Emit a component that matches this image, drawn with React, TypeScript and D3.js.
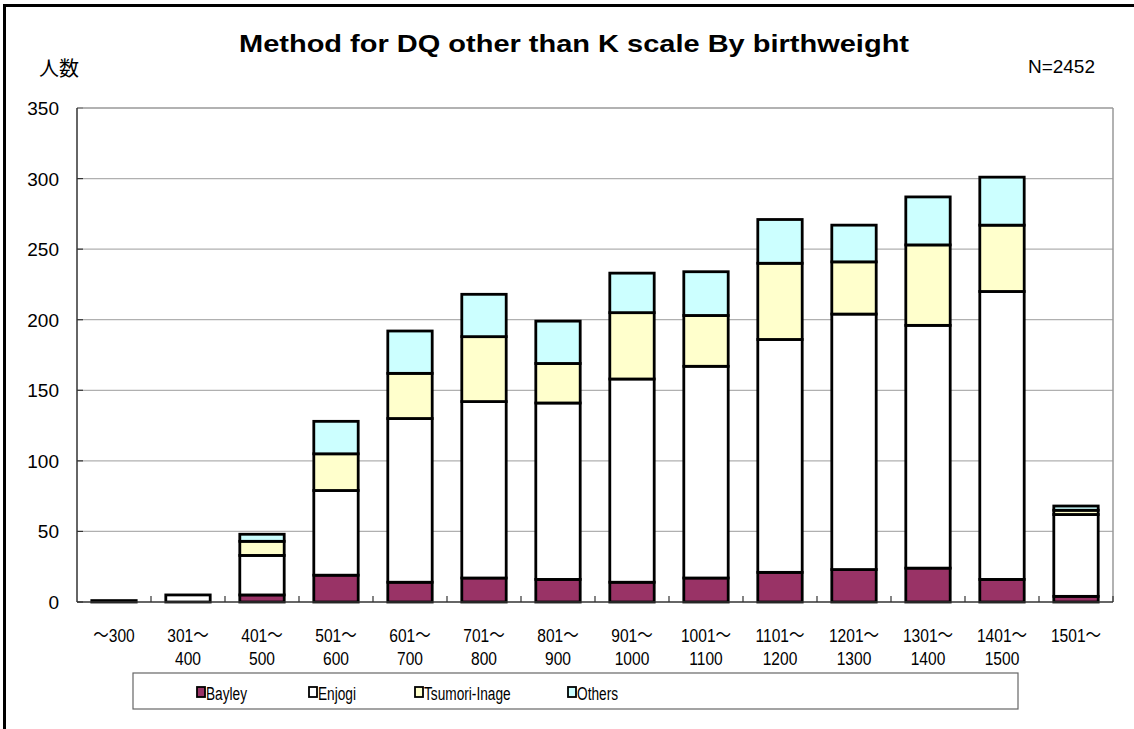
import { scaleBand, scaleLinear, stack } from 'd3';

const categories = ['～300', '301～|400', '401～|500', '501～|600', '601～|700', '701～|800', '801～|900', '901～|1000', '1001～|1100', '1101～|1200', '1201～|1300', '1301～|1400', '1401～|1500', '1501～'];
const seriesNames = ['Bayley', 'Enjogi', 'Tsumori-Inage', 'Others'];
const bayley = [0, 0, 5, 19, 14, 17, 16, 14, 17, 21, 23, 24, 16, 4];
const enjogi = [1, 5, 28, 60, 116, 125, 125, 144, 150, 165, 181, 172, 204, 58];
const tsumori = [0, 0, 10, 26, 32, 46, 28, 47, 36, 54, 37, 57, 47, 3];
const others = [0, 0, 5, 23, 30, 30, 30, 28, 31, 31, 26, 34, 34, 3];
const yTicks = [0, 50, 100, 150, 200, 250, 300, 350];
const colors = ['#993366', '#ffffff', '#ffffcc', '#ccffff'];

const W = 1134;
const H = 729;
const font = '"Liberation Sans", "Noto Sans CJK JP", sans-serif';

export default function App() {
  const left = 77;
  const right = 1113;
  const top = 108;
  const bottom = 602;

  const x = scaleBand<number>().domain(categories.map((_, i) => i)).range([left, right]).paddingInner(0.4).paddingOuter(0.2);
  const band = (right - left) / categories.length;
  const y = scaleLinear().domain([0, 350]).range([bottom, top]);

  const rows = categories.map((_, i) => ({
    Bayley: bayley[i],
    Enjogi: enjogi[i],
    'Tsumori-Inage': tsumori[i],
    Others: others[i]
  }));
  const layers = stack<any>().keys(seriesNames)(rows);

  // legend entry positions (square x)
  const legendItems = [
    { x: 201, name: seriesNames[0] },
    { x: 313, name: seriesNames[1] },
    { x: 419, name: seriesNames[2] },
    { x: 572, name: seriesNames[3] }
  ];

  return (
    <svg width={W} height={H} style={{ position: 'absolute', left: 0, top: 0 }} fontFamily={font}>
      <rect x={0} y={0} width={W} height={H} fill="#fff" />
      <rect x={4.5} y={5.5} width={1300} height={900} fill="none" stroke="#000" strokeWidth={3} />

      {/* title */}
      <text x={574} y={52} textAnchor="middle" fontSize={24} fontWeight="bold" textLength={670} lengthAdjust="spacingAndGlyphs">
        Method for DQ other than K scale By birthweight
      </text>
      <text x={39} y={76} fontSize={20} fontFamily='"Noto Sans CJK JP", sans-serif'>人数</text>
      <text x={1095} y={73} textAnchor="end" fontSize={19}>N=2452</text>

      {/* grid */}
      {yTicks.map((t) => (
        <g key={t}>
          {t > 0 && t < 350 && (
            <line x1={left} x2={right} y1={y(t)} y2={y(t)} stroke="#b0b0b0" strokeWidth={1.2} />
          )}
          <line x1={left} x2={left + 6} y1={y(t)} y2={y(t)} stroke="#333" strokeWidth={1.2} />
          <text x={59} y={y(t) + 7} textAnchor="end" fontSize={19}>{t}</text>
        </g>
      ))}
      <line x1={left} x2={right} y1={top} y2={top} stroke="#999" strokeWidth={1.5} />
      <line x1={right} x2={right} y1={top} y2={bottom} stroke="#999" strokeWidth={1.5} />

      {/* bars */}
      {layers.map((layer, si) => (
        <g key={seriesNames[si]}>
          {layer.map((d, i) => {
            const h = y(d[0]) - y(d[1]);
            if (h <= 0) return null;
            return (
              <rect
                key={i}
                x={x(i)}
                y={y(d[1])}
                width={x.bandwidth()}
                height={h}
                fill={colors[si]}
                stroke="#000"
                strokeWidth={2.8}
              />
            );
          })}
        </g>
      ))}

      {/* axes */}
      <line x1={left} x2={left} y1={top} y2={bottom} stroke="#333" strokeWidth={1.5} />
      <line x1={left} x2={right} y1={bottom} y2={bottom} stroke="#333" strokeWidth={1.5} />
      {categories.map((_, i) => (
        <line key={i} x1={left + band * (i + 1)} x2={left + band * (i + 1)} y1={bottom - 6} y2={bottom} stroke="#333" strokeWidth={1.2} />
      ))}

      {/* category labels, squeezed horizontally like the original gothic font */}
      {categories.map((c, i) => {
        const parts = c.split('|');
        const cx = (x(i) as number) + x.bandwidth() / 2;
        return (
          <g key={c} transform={`translate(${cx},0) scale(0.82,1)`}>
            <text textAnchor="middle" fontSize={19}>
              <tspan x={0} y={642}>{parts[0]}</tspan>
              {parts[1] && <tspan x={0} y={665}>{parts[1]}</tspan>}
            </text>
          </g>
        );
      })}

      {/* legend */}
      <rect x={133} y={673} width={885} height={36} fill="#fff" stroke="#666" strokeWidth={1.2} />
      {legendItems.map((l, i) => (
        <g key={l.name}>
          <rect x={l.x - 4} y={687} width={8} height={10} fill={colors[i]} stroke="#000" strokeWidth={1.8} />
          <g transform={`translate(${l.x + 5},0) scale(0.72,1)`}>
            <text x={0} y={700} fontSize={19}>{l.name}</text>
          </g>
        </g>
      ))}
    </svg>
  );
}
